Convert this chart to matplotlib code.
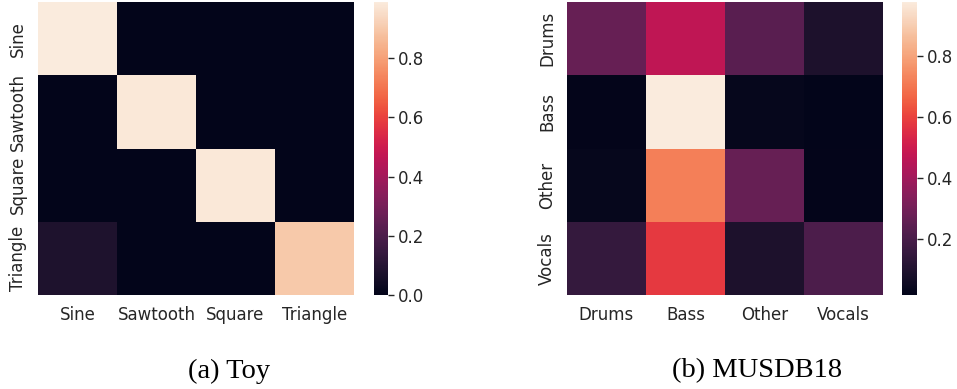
import numpy as np
import matplotlib
matplotlib.use("Agg")
import matplotlib.pyplot as plt
import seaborn as sns

sns.set_theme()

toy_labels = ["Sine", "Sawtooth", "Square", "Triangle"]
toy_values = [
    [0.99, 0.00, 0.00, 0.00],
    [0.00, 0.98, 0.00, 0.00],
    [0.00, 0.00, 0.98, 0.00],
    [0.08, 0.00, 0.00, 0.90],
]

musdb_labels = ["Drums", "Bass", "Other", "Vocals"]
musdb_values = [
    [0.27, 0.47, 0.24, 0.09],
    [0.02, 0.978, 0.03, 0.015],
    [0.03, 0.72, 0.27, 0.02],
    [0.15, 0.58, 0.09, 0.21],
]

W, H = 957, 389
fig = plt.figure(figsize=(W / 100, H / 100), dpi=100)


def box(x0, y0, x1, y1):
    return [x0 / W, 1 - y1 / H, (x1 - x0) / W, (y1 - y0) / H]


panels = [
    (toy_values, toy_labels, box(38, 2, 354, 295), box(374, 2, 388, 295), "(a) Toy", 229),
    (musdb_values, musdb_labels, box(567, 2, 883, 295), box(902, 2, 917, 295), "(b) MUSDB18", 757),
]

for values, labels, hm_box, cb_box, caption, cx in panels:
    ax = fig.add_axes(hm_box)
    cax = fig.add_axes(cb_box)
    sns.heatmap(np.array(values), ax=ax, cbar_ax=cax, cmap="rocket",
                xticklabels=labels, yticklabels=labels)
    ax.tick_params(axis="both", labelsize=12, pad=2)
    ax.set_yticklabels(labels, rotation=90, va="center")
    cax.tick_params(labelsize=12, length=4, width=1, right=True, pad=3)
    fig.text(cx / W, 1 - 371 / H, caption, ha="center", va="center",
             family="Liberation Serif", fontsize=20.5, color="black")

fig.savefig("out.png", dpi=100)
